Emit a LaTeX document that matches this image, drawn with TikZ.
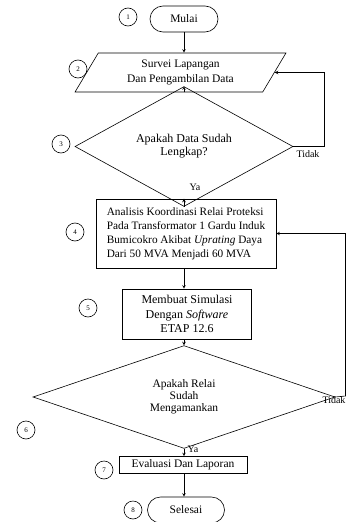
\documentclass[tikz,border=0pt]{standalone}
\usepackage{fontspec}
\setmainfont{Liberation Serif}
\usepackage{tikz}
\usetikzlibrary{shapes.geometric,shapes.misc}
\tikzset{
    terminal/.style={draw,rounded rectangle,minimum height=26pt,inner sep=2pt},
    dataio/.style={draw,trapezium,trapezium left angle=60,trapezium right angle=120,
        trapezium stretches=true,minimum width=211pt,minimum height=39pt,inner sep=1pt,align=center},
    decision/.style={draw,diamond,inner sep=0pt,align=center},
    process/.style={draw,rectangle,inner sep=2pt,align=center},
    nomor/.style={draw,circle,minimum size=18pt,inner sep=0pt,font=\fontsize{7}{8}\selectfont},
    keterangan/.style={inner sep=1pt,font=\fontsize{10}{11}\selectfont}
}

\begin{document}
\begin{tikzpicture}[x=1pt,y=-1pt,>=stealth,line width=0.6pt,font=\fontsize{11.5}{14.5}\selectfont]
    \useasboundingbox (0,0) rectangle (347,522);
    % alur utama
    \node[terminal,minimum width=72pt] (mulai) at (184,19) {Mulai};
    \node[dataio] (survei) at (180.5,72.5) {Survei Lapangan\\Dan Pengambilan Data};
    \node[decision,minimum width=218pt,minimum height=67pt,font=\fontsize{12}{13}\selectfont] (cekdata) at (184,146.5) {Apakah Data Sudah\\Lengkap?};
    \node[process,minimum width=180pt,minimum height=69pt,align=left,font=\fontsize{11.3}{14}\selectfont] (analisis) at (186,233.5)
        {Analisis Koordinasi Relai Proteksi\\Pada Transformator 1 Gardu Induk\\Bumicokro Akibat \textit{Uprating} Daya\\Dari 50 MVA Menjadi 60 MVA};
    \node[process,minimum width=129pt,minimum height=50pt,font=\fontsize{12}{14.5}\selectfont] (simulasi) at (187,314)
        {Membuat Simulasi\\Dengan \textit{Software}\\ETAP 12.6};
    \node[decision,minimum width=302pt,minimum height=92pt,font=\fontsize{11.5}{12}\selectfont] (cekrelai) at (184,397)
        {Apakah Relai\\Sudah\\Mengamankan};
    \node[process,minimum width=128pt,minimum height=17pt] (evaluasi) at (183,465) {Evaluasi Dan Laporan};
    \node[terminal,minimum width=81pt] (selesai) at (186,510) {Selesai};
    % nomor langkah
    \node[nomor] (n1) at (128,17) {1};
    \node[nomor] (n2) at (78,69) {2};
    \node[nomor] (n3) at (61,144) {3};
    \node[nomor] (n4) at (75,232) {4};
    \node[nomor] (n5) at (88,308) {5};
    \node[nomor] (n6) at (26,430) {6};
    \node[nomor] (n7) at (104,470) {7};
    \node[nomor] (n8) at (133,510) {8};
    % panah
    \draw[->] (mulai.south) -- (mulai.south |- survei.north);
    \draw[->] (cekdata.north |- survei.south) -- (cekdata.north);
    \draw[->] (cekdata.south) -- (cekdata.south |- analisis.north);
    \draw[->] (cekdata.south |- analisis.south) -- (cekdata.south |- simulasi.north);
    \draw[->] (cekrelai.north |- simulasi.south) -- (cekrelai.north);
    \draw[->] (cekrelai.south) -- (cekrelai.south |- evaluasi.north);
    \draw[->] (cekrelai.south |- evaluasi.south) -- (cekrelai.south |- selesai.north);
    % umpan balik
    \coordinate (balik1) at (324,146.5);
    \coordinate (balik2) at (345.5,396);
    \draw[->] (cekdata.east) -- (balik1) |- (survei.east);
    \draw[->] (cekrelai.east) -- (balik2) |- (analisis.east);
    \node[keterangan] (tidak1) at (308,154) {Tidak};
    \node[keterangan] (tidak2) at (334,400) {Tidak};
    \node[keterangan] (ya1) at (195,187) {Ya};
    \node[keterangan] (ya2) at (193,449) {Ya};
\end{tikzpicture}
\end{document}
